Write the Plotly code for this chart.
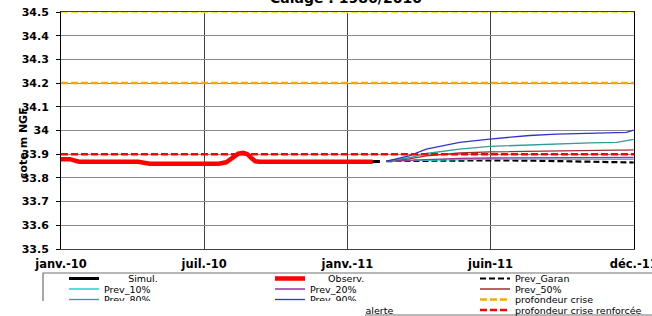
import plotly.graph_objects as go

# ---------------- data ----------------
x_range = ["2010-01-17", "2011-12-22 08:00"]
tick_dates = ["2010-01-17", "2010-07-12", "2011-01-04", "2011-06-29", "2011-12-22"]
tick_labels = ["janv.-10", "juil.-10", "janv.-11", "juin-11", "déc.-11"]

obs_dates = ["2010-01-10", "2010-01-28", "2010-02-08", "2010-04-22", "2010-05-06",
             "2010-07-30", "2010-08-08", "2010-08-16", "2010-08-23", "2010-08-29",
             "2010-09-03", "2010-09-08", "2010-09-13", "2010-09-18", "2011-02-04"]
obs_values = [33.879, 33.879, 33.868, 33.868, 33.860,
              33.860, 33.866, 33.885, 33.902, 33.906,
              33.900, 33.884, 33.870, 33.868, 33.868]

sim_dates = ["2011-01-25", "2011-02-13"]
sim_values = [33.868, 33.869]

prev_dates = ["2011-02-21", "2011-03-21", "2011-04-11", "2011-05-03", "2011-05-22",
              "2011-06-28", "2011-08-16", "2011-09-18", "2011-10-29", "2011-12-01",
              "2011-12-13", "2011-12-22"]
prev_garan = [33.871, 33.872, 33.873, 33.874, 33.874, 33.874, 33.873, 33.871, 33.869, 33.867, 33.866, 33.865]
prev_10 = [33.871, 33.873, 33.875, 33.877, 33.878, 33.879, 33.879, 33.879, 33.879, 33.879, 33.878, 33.878]
prev_20 = [33.871, 33.875, 33.879, 33.881, 33.882, 33.884, 33.885, 33.885, 33.886, 33.886, 33.886, 33.886]
prev_50 = [33.871, 33.880, 33.893, 33.900, 33.905, 33.910, 33.913, 33.915, 33.916, 33.917, 33.917, 33.918]
prev_80 = [33.871, 33.885, 33.903, 33.913, 33.921, 33.933, 33.940, 33.945, 33.948, 33.950, 33.956, 33.963]
prev_90 = [33.871, 33.893, 33.921, 33.937, 33.950, 33.964, 33.979, 33.985, 33.990, 33.991, 33.992, 34.002]

seuil_dates = ["2010-01-17", "2011-12-22 08:00"]
crise = 34.2
alerte = 34.5
crise_renforcee = 33.9

# ---------------- layout helpers ----------------
W, H = 652, 316
ML, MR, MT, MB = 61, 18, 12, 67
PW, PH = W - ML - MR, H - MT - MB


def px_x(px):
    return (px - ML) / PW


def px_y(py):
    return (H - MB - py) / PH


NB = "\u00a0"
FONT = "DejaVu Sans"

# legend grid: (column x in px, row centre y in px)
col_x = [64, 270, 475]
row_y = [278.5, 289, 299.5, 310]

fig = go.Figure()
legend_layouts = {}


def add_line(x, y, name, color, width, dash, col, row):
    lid = "legend" if not legend_layouts else "legend%d" % (len(legend_layouts) + 1)
    legend_layouts[lid] = dict(
        x=px_x(col_x[col]), y=px_y(row_y[row]), xanchor="left", yanchor="middle",
        orientation="h", bgcolor="rgba(0,0,0,0)", borderwidth=0,
        font=dict(family=FONT, size=9.5, color="#000000"), itemclick=False,
        itemdoubleclick=False)
    fig.add_trace(go.Scatter(x=x, y=y, mode="lines", name=name,
                             line=dict(color=color, width=width, dash=dash),
                             legend=lid, hoverinfo="skip"))


add_line(sim_dates, sim_values, NB * 8 + "Simul.", "#000000", 3, "solid", 0, 0)
add_line(obs_dates, obs_values, NB * 6 + "Observ.", "#FF0000", 4.5, "solid", 1, 0)
add_line(prev_dates, prev_garan, "Prev_Garan", "#000000", 2.2, "6px,3px", 2, 0)
add_line(prev_dates, prev_10, "Prev_10%", "#22D0D0", 1.3, "solid", 0, 1)
add_line(prev_dates, prev_20, "Prev_20%", "#993399", 1.3, "solid", 1, 1)
add_line(prev_dates, prev_50, "Prev_50%", "#A03030", 1.3, "solid", 2, 1)
add_line(prev_dates, prev_80, "Prev_80%", "#339999", 1.3, "solid", 0, 2)
add_line(prev_dates, prev_90, "Prev_90%", "#3333CC", 1.3, "solid", 1, 2)
add_line(seuil_dates, [crise, crise], "profondeur crise", "#FFA500", 2.5, "7px,3px", 2, 2)
add_line(seuil_dates, [alerte, alerte], "profondeur alerte", "#F2E830", 2.5, "7px,3px", 1, 3)
add_line(seuil_dates, [crise_renforcee, crise_renforcee], "profondeur crise renforcée",
         "#FF0000", 2.5, "7px,3px", 2, 3)

fig.update_layout(**legend_layouts)

fig.update_layout(
    width=W, height=H,
    margin=dict(l=ML, r=MR, t=MT, b=MB, autoexpand=False),
    paper_bgcolor="white", plot_bgcolor="white",
    showlegend=True,
    xaxis=dict(type="date", range=x_range, tickvals=tick_dates, ticktext=tick_labels,
               showgrid=True, gridcolor="#404040", gridwidth=1,
               showline=True, linecolor="#404040", linewidth=1, mirror=True,
               ticks="", ticklabelstandoff=4, ticklabeloverflow="allow",
               tickfont=dict(family=FONT, size=11.5, color="#000000", weight="bold"),
               zeroline=False),
    yaxis=dict(range=[33.5, 34.5], tick0=33.5, dtick=0.1,
               showgrid=True, gridcolor="#8a8a8a", gridwidth=1,
               showline=True, linecolor="#000000", linewidth=1, mirror=True,
               ticks="outside", ticklen=4, tickcolor="#000000",
               tickfont=dict(family=FONT, size=11, color="#000000", weight="bold"),
               ticklabelstandoff=5, zeroline=False),
)

# legend frame
fig.add_shape(type="rect", xref="paper", yref="paper",
              x0=px_x(43), x1=px_x(700), y0=px_y(315), y1=px_y(273),
              line=dict(color="#707070", width=1.2), fillcolor="rgba(0,0,0,0)", layer="above")

# title (cut by top edge)
fig.add_annotation(text="<b>Calage : 1986/2010</b>", xref="paper", yref="paper",
                   x=px_x(346), y=px_y(8), xanchor="center", yanchor="bottom",
                   showarrow=False, font=dict(family=FONT, size=14, color="#000000"))

# y axis title
fig.add_annotation(text="<b>cote m NGF</b>", xref="paper", yref="paper",
                   x=px_x(23), y=px_y(143), xanchor="center", yanchor="middle",
                   textangle=-90, showarrow=False,
                   font=dict(family=FONT, size=11, color="#000000"))

# overlapping white panel at bottom-left
fig.add_annotation(text=NB, xref="paper", yref="paper",
                   x=px_x(0), y=px_y(300.5), xanchor="left", yanchor="top",
                   width=365, height=20, bgcolor="white", borderpad=0, borderwidth=0,
                   showarrow=False, font=dict(size=2))

fig.write_html("out.html", config={"displayModeBar": False},
               post_script="document.body.style.margin='0';")
